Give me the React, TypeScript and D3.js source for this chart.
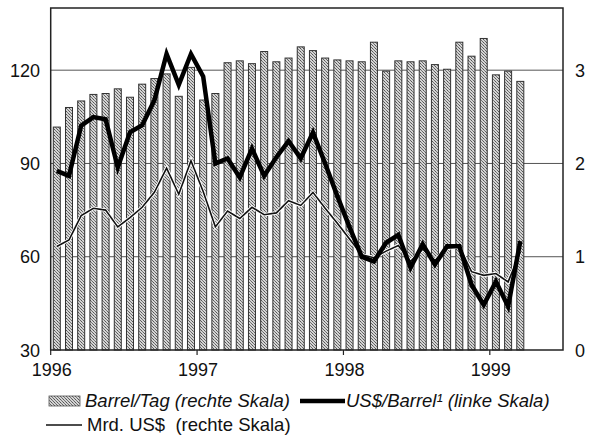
import React, { useRef, useEffect } from 'react';
import * as d3 from 'd3';

// Tick labels
const years = ['1996', '1997', '1998', '1999'];
const leftTicks = [30, 60, 90, 120];
const rightTicks = [0, 1, 2, 3];

// Monthly values, Jan 1996 - Mar 1999
// Barrel/Tag (rechte Skala)
const barrelsPerDay = [
  2.39, 2.60, 2.67, 2.74, 2.75, 2.80, 2.71, 2.85, 2.91, 2.96, 2.72, 3.03,
  2.68, 2.75, 3.08, 3.10, 3.07, 3.20, 3.09, 3.13, 3.25, 3.21, 3.13, 3.11,
  3.10, 3.09, 3.30, 2.99, 3.10, 3.09, 3.10, 3.06, 3.01, 3.30, 3.15, 3.34,
  2.95, 2.99, 2.88,
];
// US$/Barrel (linke Skala)
const usdPerBarrel = [
  87.6, 86.0, 102.2, 104.9, 104.2, 88.7, 100.0, 102.3, 110.3, 125.2, 115.3, 125.2,
  118.0, 90.0, 91.6, 85.5, 94.8, 86.0, 92.0, 97.2, 91.6, 100.0, 90.0, 79.5,
  69.5, 60.0, 58.5, 64.5, 67.0, 56.5, 64.0, 57.5, 63.4, 63.4, 51.0, 44.5,
  52.0, 44.0, 65.0,
];
// Mrd. US$ (rechte Skala)
const revenueBn = [
  1.11, 1.18, 1.44, 1.52, 1.50, 1.32, 1.42, 1.53, 1.69, 1.95, 1.67, 2.03,
  1.70, 1.32, 1.49, 1.41, 1.53, 1.45, 1.47, 1.60, 1.55, 1.69, 1.52, 1.36,
  1.19, 1.02, 0.99, 1.06, 1.12, 0.95, 1.08, 0.96, 1.09, 1.11, 0.84, 0.80,
  0.82, 0.73, 1.05,
];

const font = '"Liberation Sans", Arial, sans-serif';

const App = () => {
  const ref = useRef<SVGSVGElement>(null);

  useEffect(() => {
    const svg = d3.select(ref.current);
    svg.selectAll('*').remove();

    const left = 50.7, right = 563, top = 8, bottom = 350;

    // month index scale, 42 months shown (Jan 96 - Jun 99)
    const x = d3.scaleLinear().domain([0, 42]).range([left, right]);
    const yL = d3.scaleLinear().domain([30, 140]).range([bottom, top]);
    const yR = d3.scaleLinear().domain([0, 110 / 30]).range([bottom, top]);

    // stippled fill for the bars
    const pat = svg.append('defs').append('pattern')
      .attr('id', 'stipple')
      .attr('width', 3).attr('height', 3)
      .attr('patternUnits', 'userSpaceOnUse');
    pat.append('rect').attr('width', 3).attr('height', 3).attr('fill', '#d4d4d4');
    pat.append('rect').attr('x', 0).attr('y', 0).attr('width', 1).attr('height', 1).attr('fill', '#555');
    pat.append('rect').attr('x', 1).attr('y', 1).attr('width', 1).attr('height', 1).attr('fill', '#777');
    pat.append('rect').attr('x', 2).attr('y', 2).attr('width', 1).attr('height', 1).attr('fill', '#666');

    svg.append('rect').attr('width', 597).attr('height', 437).attr('fill', '#fff');

    // gridlines
    svg.append('g').selectAll('line')
      .data(leftTicks.slice(1))
      .join('line')
      .attr('x1', left).attr('x2', right)
      .attr('y1', d => yL(d)).attr('y2', d => yL(d))
      .attr('stroke', '#555').attr('stroke-width', 1);

    // bars
    const bw = 7;
    svg.append('g').selectAll('rect')
      .data(barrelsPerDay)
      .join('rect')
      .attr('x', (d, i) => x(i + 0.5) - bw / 2)
      .attr('y', d => yR(d))
      .attr('width', bw)
      .attr('height', d => bottom - yR(d))
      .attr('fill', 'url(#stipple)')
      .attr('stroke', '#333')
      .attr('stroke-width', 1);

    // thin line
    const lineR = d3.line<number>().x((d, i) => x(i + 0.5)).y(d => yR(d));
    svg.append('path')
      .attr('d', lineR(revenueBn))
      .attr('fill', 'none')
      .attr('stroke', '#fff')
      .attr('stroke-width', 3.5);
    svg.append('path')
      .attr('d', lineR(revenueBn))
      .attr('fill', 'none')
      .attr('stroke', '#111')
      .attr('stroke-width', 1.6);

    // thick line
    const lineL = d3.line<number>().x((d, i) => x(i + 0.5)).y(d => yL(d));
    svg.append('path')
      .attr('d', lineL(usdPerBarrel))
      .attr('fill', 'none')
      .attr('stroke', '#000')
      .attr('stroke-width', 4.5)
      .attr('stroke-linejoin', 'miter');

    // frame
    svg.append('rect')
      .attr('x', left).attr('y', top)
      .attr('width', right - left).attr('height', bottom - top)
      .attr('fill', 'none').attr('stroke', '#222').attr('stroke-width', 1.5);

    // year ticks
    svg.append('g').selectAll('line')
      .data(years)
      .join('line')
      .attr('x1', (d, i) => x(i * 12)).attr('x2', (d, i) => x(i * 12))
      .attr('y1', bottom).attr('y2', bottom + 5)
      .attr('stroke', '#222').attr('stroke-width', 1.2);

    const txt = (sel: any) => sel
      .attr('font-family', font)
      .attr('font-size', 18)
      .attr('fill', '#111');

    svg.append('g').selectAll('text')
      .data(years)
      .join('text')
      .call(txt)
      .attr('x', (d, i) => x(i * 12) + 1)
      .attr('y', 376)
      .attr('text-anchor', 'middle')
      .text(d => d);

    svg.append('g').selectAll('text')
      .data(leftTicks)
      .join('text')
      .call(txt)
      .attr('x', 40)
      .attr('y', d => yL(d) + 6.5)
      .attr('text-anchor', 'end')
      .text(d => d);

    svg.append('g').selectAll('text')
      .data(rightTicks)
      .join('text')
      .call(txt)
      .attr('x', 575)
      .attr('y', d => yR(d) + 6.5)
      .attr('text-anchor', 'start')
      .text(d => d);

    // legend
    const lg = svg.append('g');
    lg.append('rect')
      .attr('x', 49).attr('y', 396).attr('width', 31).attr('height', 10)
      .attr('fill', 'url(#stipple)').attr('stroke', '#555').attr('stroke-width', 0.8);
    lg.append('text').call(txt)
      .attr('x', 85).attr('y', 407)
      .attr('font-size', 18.5)
      .attr('font-style', 'italic')
      .text('Barrel/Tag (rechte Skala)');
    lg.append('line')
      .attr('x1', 300).attr('x2', 345).attr('y1', 401).attr('y2', 401)
      .attr('stroke', '#000').attr('stroke-width', 4.5);
    lg.append('text').call(txt)
      .attr('x', 346).attr('y', 407)
      .attr('font-size', 18.5)
      .attr('font-style', 'italic')
      .text('US$/Barrel\u00b9 (linke Skala)');
    lg.append('line')
      .attr('x1', 46).attr('x2', 82).attr('y1', 425).attr('y2', 425)
      .attr('stroke', '#111').attr('stroke-width', 1.6);
    lg.append('text').call(txt)
      .attr('x', 87).attr('y', 431)
      .attr('font-size', 18.5)
      .style('white-space', 'pre')
      .text('Mrd. US$  (rechte Skala)');
  }, []);

  return (
    <svg
      ref={ref}
      width={597}
      height={437}
      style={{ position: 'absolute', left: 0, top: 0, display: 'block' }}
    />
  );
};

export default App;
